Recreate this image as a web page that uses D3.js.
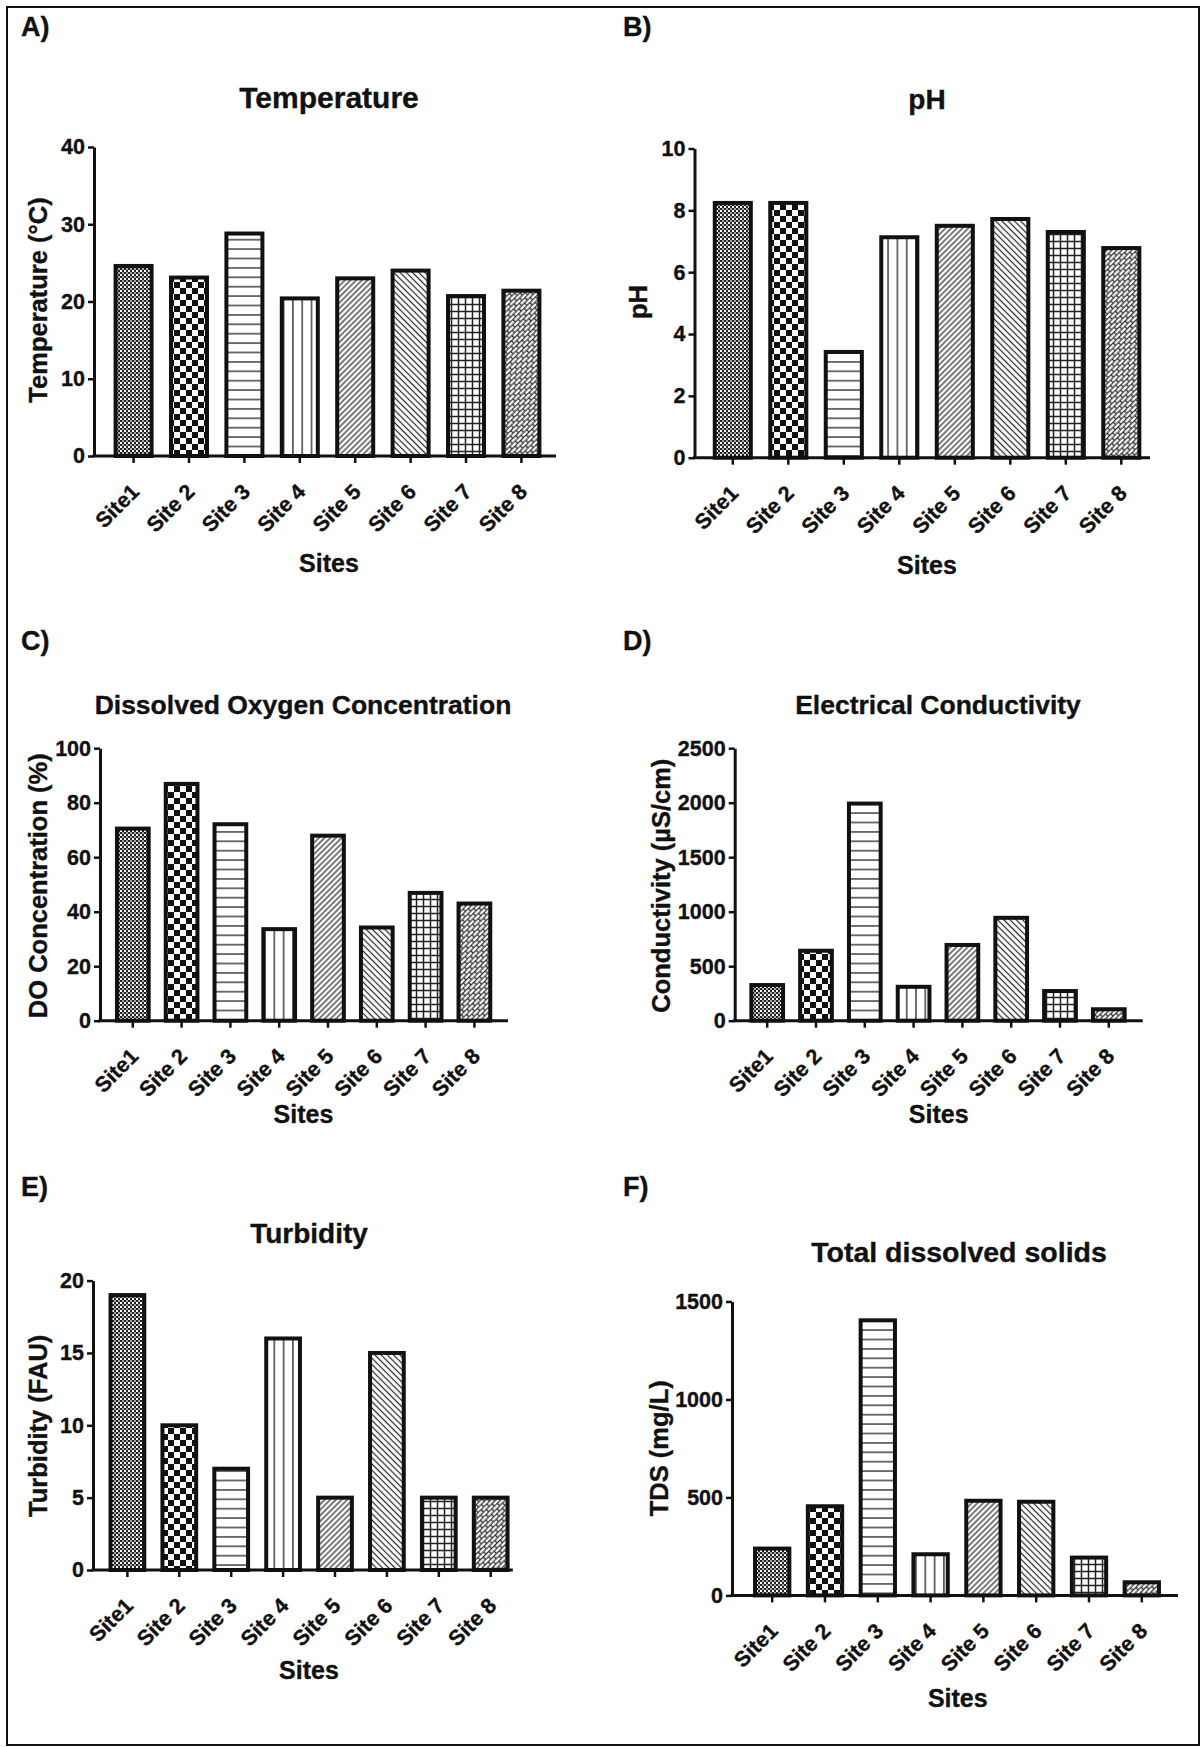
<!DOCTYPE html>
<html>
<head>
<meta charset="utf-8">
<script src="https://cdn.jsdelivr.net/npm/d3@7"></script>
<style>
  body { margin: 0; background: #fff; }
  svg text { font-family: "Liberation Sans", Arial, sans-serif; font-weight: bold; fill: #111; stroke: #111; stroke-width: 0.35px; }
</style>
</head>
<body>
<div class="page-svg"></div>
<script>
// data
const sites = ['Site1', 'Site 2', 'Site 3', 'Site 4', 'Site 5', 'Site 6', 'Site 7', 'Site 8']
const temperature = [24.6, 23.1, 28.8, 20.4, 23.0, 24.0, 20.7, 21.4]
const ph = [8.24, 8.24, 3.42, 7.13, 7.5, 7.72, 7.3, 6.78]
const dissolvedOxygen = [70.5, 86.9, 72.1, 33.6, 67.9, 34.2, 46.9, 43.0]
const conductivity = [327, 642, 1992, 311, 695, 944, 272, 105]
const turbidity = [19, 10, 7, 16, 5, 15, 5, 5]
const tds = [239, 455, 1404, 210, 483, 478, 193, 67]

const tempTicks = [0, 10, 20, 30, 40]
const phTicks = [0, 2, 4, 6, 8, 10]
const doTicks = [0, 20, 40, 60, 80, 100]
const condTicks = [0, 500, 1000, 1500, 2000, 2500]
const turbTicks = [0, 5, 10, 15, 20]
const tdsTicks = [0, 500, 1000, 1500]

// panel layout (pixels)
const panels = [
  {label: 'A)', lx: 21, ly: 36, title: 'Temperature', tx: 329, ty: 108, ts: 30,
   ylabel: 'Temperature (°C)', ylx: 38, yly: 300, values: temperature, ticks: tempTicks,
   axisX: 94, top: 147, bottom: 456, first: 133.6, step: 55.4, xEnd: 556, sx: 329, sy: 572},
  {label: 'B)', lx: 623, ly: 36, title: 'pH', tx: 927, ty: 109, ts: 28,
   ylabel: 'pH', ylx: 638, yly: 302, values: ph, ticks: phTicks,
   axisX: 694.5, top: 148.5, bottom: 457.7, first: 732.8, step: 55.5, xEnd: 1150, sx: 927, sy: 574},
  {label: 'C)', lx: 21, ly: 650, title: 'Dissolved Oxygen Concentration', tx: 303, ty: 713.6, ts: 26.5,
   ylabel: 'DO Concentration (%)', ylx: 38, yly: 885.7, values: dissolvedOxygen, ticks: doTicks,
   axisX: 100, top: 748.2, bottom: 1020.7, first: 132.8, step: 48.8, xEnd: 508, sx: 303.5, sy: 1123.2},
  {label: 'D)', lx: 623, ly: 650, title: 'Electrical Conductivity', tx: 938, ty: 713.6, ts: 26.5,
   ylabel: 'Conductivity (µS/cm)', ylx: 661, yly: 885.7, values: conductivity, ticks: condTicks,
   axisX: 734.7, top: 748.2, bottom: 1020.7, first: 767.2, step: 48.8, xEnd: 1142.7, sx: 938.7, sy: 1123.2},
  {label: 'E)', lx: 21, ly: 1195.6, title: 'Turbidity', tx: 309, ty: 1243.1, ts: 28,
   ylabel: 'Turbidity (FAU)', ylx: 38, yly: 1425.8, values: turbidity, ticks: turbTicks,
   axisX: 93, top: 1280.6, bottom: 1570, first: 127.4, step: 51.9, xEnd: 512.8, sx: 309, sy: 1678.5},
  {label: 'F)', lx: 623, ly: 1195.6, title: 'Total dissolved solids', tx: 959, ty: 1261.8, ts: 28.5,
   ylabel: 'TDS (mg/L)', ylx: 659, yly: 1448.3, values: tds, ticks: tdsTicks,
   axisX: 732, top: 1301.5, bottom: 1595.4, first: 772.2, step: 52.8, xEnd: 1177.9, sx: 957.8, sy: 1706.6}
]

var width = 1201,
    height = 1747

var svg = d3.select('.page-svg').append('svg')
  .attr('width', width)
  .attr('height', height)

// fill patterns, one per site
var defs = svg.append('defs')
const ink = '#111'

const addPattern = (id, w, h, transform) => {
  var p = defs.append('pattern')
    .attr('id', id)
    .attr('patternUnits', 'userSpaceOnUse')
    .attr('width', w)
    .attr('height', h)
  if (transform) p.attr('patternTransform', transform)
  p.append('rect').attr('width', w).attr('height', h).attr('fill', '#fff')
  return p
}

// site 1: fine checker
var p1 = addPattern('pat0', 4, 4)
p1.append('rect').attr('x', 0).attr('y', 0).attr('width', 2).attr('height', 2).attr('fill', '#222')
p1.append('rect').attr('x', 2).attr('y', 2).attr('width', 2).attr('height', 2).attr('fill', '#222')
p1.append('rect').attr('x', 2).attr('y', 0).attr('width', 2).attr('height', 2).attr('fill', '#aaa')
// site 2: big checker
var p2 = addPattern('pat1', 12, 12)
p2.append('rect').attr('width', 6).attr('height', 6).attr('fill', ink)
p2.append('rect').attr('x', 6).attr('y', 6).attr('width', 6).attr('height', 6).attr('fill', ink)
// site 3: horizontal lines
addPattern('pat2', 10, 9.4)
  .append('line').attr('x1', 0).attr('x2', 10).attr('y1', 4.7).attr('y2', 4.7)
  .attr('stroke', '#333').attr('stroke-width', 1.4)
// site 4: vertical lines
addPattern('pat3', 9.3, 10)
  .append('line').attr('x1', 4.6).attr('x2', 4.6).attr('y1', 0).attr('y2', 10)
  .attr('stroke', '#333').attr('stroke-width', 1.4)
// site 5: forward diagonal
addPattern('pat4', 4, 10, 'rotate(45)')
  .append('line').attr('x1', 2).attr('x2', 2).attr('y1', 0).attr('y2', 10)
  .attr('stroke', '#222').attr('stroke-width', 1.2)
// site 6: back diagonal
addPattern('pat5', 4.4, 10, 'rotate(-45)')
  .append('line').attr('x1', 2.2).attr('x2', 2.2).attr('y1', 0).attr('y2', 10)
  .attr('stroke', '#222').attr('stroke-width', 1.2)
// site 7: grid
var p7 = addPattern('pat6', 7, 7)
p7.append('path').attr('d', 'M0,3.5H7M3.5,0V7').attr('stroke', '#222').attr('stroke-width', 1.5).attr('fill', 'none')
// site 8: diagonal bricks
var p8 = addPattern('pat7', 8, 7, 'rotate(-45)')
p8.append('path')
  .attr('d', 'M0,0.6H8M0,4.1H8M0.6,0.6V4.1M4.6,4.1V7.6')
  .attr('stroke', '#333').attr('stroke-width', 1.4).attr('fill', 'none')

// outer frame
svg.append('rect')
  .attr('x', 7).attr('y', 7)
  .attr('width', 1192).attr('height', 1738)
  .attr('fill', 'none').attr('stroke', ink).attr('stroke-width', 2)

const drawPanel = (cfg) => {
  var g = svg.append('g')
  var yMax = cfg.ticks[cfg.ticks.length - 1]

  var y = d3.scaleLinear()
    .domain([0, yMax])
    .range([cfg.bottom, cfg.top])

  var x = d3.scaleBand()
    .domain(sites)
    .range([cfg.first - cfg.step / 2, cfg.first + cfg.step * 7.5])
    .paddingInner(0.35)
    .paddingOuter(0.175)

  // bars
  g.append('g')
    .selectAll('rect')
    .data(cfg.values)
    .join('rect')
      .attr('x', (d, i) => x(sites[i]))
      .attr('y', d => y(d))
      .attr('width', x.bandwidth())
      .attr('height', d => y(0) - y(d))
      .attr('fill', (d, i) => `url(#pat${i})`)
      .attr('stroke', ink)
      .attr('stroke-width', 4)

  // y axis
  var yAxis = d3.axisLeft(y)
    .tickValues(cfg.ticks)
    .tickFormat(d3.format('d'))
    .tickSize(6)
    .tickSizeOuter(0)
    .tickPadding(3)
  var ya = g.append('g')
    .attr('transform', `translate(${cfg.axisX},0)`)
    .call(yAxis)
  ya.select('.domain').attr('stroke', ink).attr('stroke-width', 3)
  ya.selectAll('.tick line').attr('stroke', ink).attr('stroke-width', 2.5)
  ya.selectAll('.tick text').attr('font-size', 21.5).attr('fill', ink)

  // x axis
  var xAxis = d3.axisBottom(x).tickSize(7)
  var xa = g.append('g')
    .attr('transform', `translate(0,${cfg.bottom})`)
    .call(xAxis)
  xa.select('.domain').remove()
  xa.selectAll('.tick line').attr('stroke', ink).attr('stroke-width', 2.5)
  xa.selectAll('.tick text')
    .attr('font-size', 21.5)
    .attr('fill', ink)
    .attr('x', 0)
    .attr('y', 0)
    .attr('dy', '0.72em')
    .attr('text-anchor', 'end')
    .attr('transform', 'translate(-4,26) rotate(-45)')
  g.append('line')
    .attr('x1', cfg.axisX - 1.5).attr('x2', cfg.xEnd)
    .attr('y1', cfg.bottom).attr('y2', cfg.bottom)
    .attr('stroke', ink).attr('stroke-width', 3)

  // texts
  g.append('text')
    .attr('x', cfg.lx).attr('y', cfg.ly)
    .attr('font-size', 27)
    .text(cfg.label)
  g.append('text')
    .attr('x', cfg.tx).attr('y', cfg.ty)
    .attr('text-anchor', 'middle')
    .attr('font-size', cfg.ts)
    .text(cfg.title)
  g.append('text')
    .attr('transform', `translate(${cfg.ylx},${cfg.yly}) rotate(-90)`)
    .attr('text-anchor', 'middle')
    .attr('dy', '0.36em')
    .attr('font-size', 25.5)
    .text(cfg.ylabel)
  g.append('text')
    .attr('x', cfg.sx).attr('y', cfg.sy)
    .attr('text-anchor', 'middle')
    .attr('font-size', 25)
    .text('Sites')
}

panels.forEach(cfg => drawPanel(cfg))
</script>
</body>
</html>
